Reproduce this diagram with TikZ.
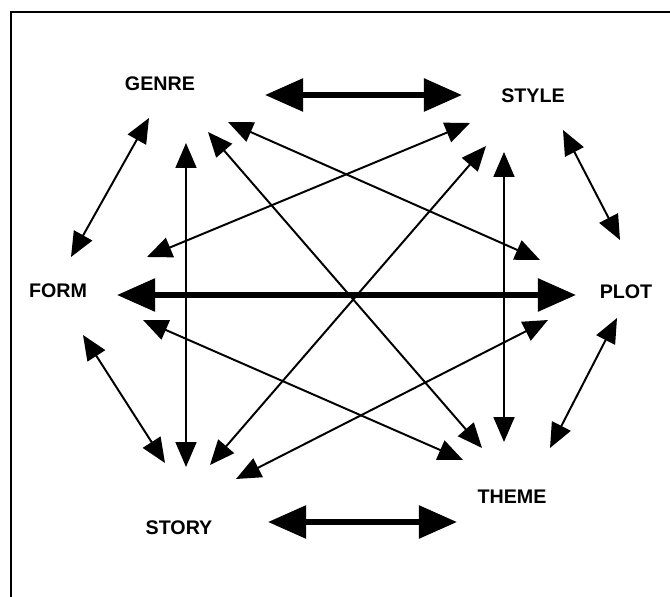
\documentclass[tikz,border=0pt]{standalone}
\usepackage{fontspec}
\setmainfont{Liberation Sans}
\usetikzlibrary{arrows.meta}
\tikzset{
  lbl/.style={font=\fontsize{14}{16}\selectfont\bfseries},
  thinlink/.style={line width=1.4pt,
    {Triangle[length=0.62cm,width=0.52cm]}-{Triangle[length=0.62cm,width=0.52cm]}},
  thicklink/.style={line width=4pt,
    {Triangle[length=0.95cm,width=0.8cm]}-{Triangle[length=0.95cm,width=0.8cm]}}
}
\begin{document}
\begin{tikzpicture}[x=0.025cm, y=-0.025cm]
\useasboundingbox (0,0) rectangle (670,597);
% frame
\draw[line width=1pt] (11,597) -- (11,12) -- (670,12);
% labels
\node[lbl] (genre) at (160,84)  {GENRE};
\node[lbl] (style) at (533,96)  {STYLE};
\node[lbl] (form)  at (58,291)  {FORM};
\node[lbl] (plot)  at (626,292) {PLOT};
\node[lbl] (story) at (179,528) {STORY};
\node[lbl] (theme) at (512,497) {THEME};
% arrow ends
\coordinate (GSt) at (265,95);
\coordinate (StG) at (462,95);
\coordinate (FP)  at (117,295);
\coordinate (PF)  at (576,295);
\coordinate (SyT) at (268,522);
\coordinate (TSy) at (457,522);
\coordinate (GF)  at (149,118);
\coordinate (FG)  at (71,257);
\coordinate (StP) at (563,130);
\coordinate (PSt) at (620,240);
\coordinate (FSy) at (83,335);
\coordinate (SyF) at (165,463);
\coordinate (PT)  at (617,318);
\coordinate (TP)  at (550,448);
\coordinate (GSy) at (186,143);
\coordinate (SyG) at (186,467);
\coordinate (StT) at (504,152);
\coordinate (TSt) at (504,442);
\coordinate (GP)  at (228,122);
\coordinate (PG)  at (540,260);
\coordinate (GT)  at (208,132);
\coordinate (TG)  at (482,448);
\coordinate (StF) at (470,123);
\coordinate (FSt) at (147,257);
\coordinate (StSy) at (486,146);
\coordinate (SySt) at (210,465);
\coordinate (FT)  at (143,320);
\coordinate (TF)  at (463,460);
\coordinate (PSy) at (548,320);
\coordinate (SyP) at (236,479);
% links
\draw[thicklink] (GSt) -- (StG);
\draw[thicklink] (FP) -- (PF);
\draw[thicklink] (SyT) -- (TSy);
\draw[thinlink] (GF) -- (FG);
\draw[thinlink] (StP) -- (PSt);
\draw[thinlink] (FSy) -- (SyF);
\draw[thinlink] (PT) -- (TP);
\draw[thinlink] (GSy) -- (SyG);
\draw[thinlink] (StT) -- (TSt);
\draw[thinlink] (GP) -- (PG);
\draw[thinlink] (GT) -- (TG);
\draw[thinlink] (StF) -- (FSt);
\draw[thinlink] (StSy) -- (SySt);
\draw[thinlink] (FT) -- (TF);
\draw[thinlink] (PSy) -- (SyP);
\end{tikzpicture}
\end{document}
